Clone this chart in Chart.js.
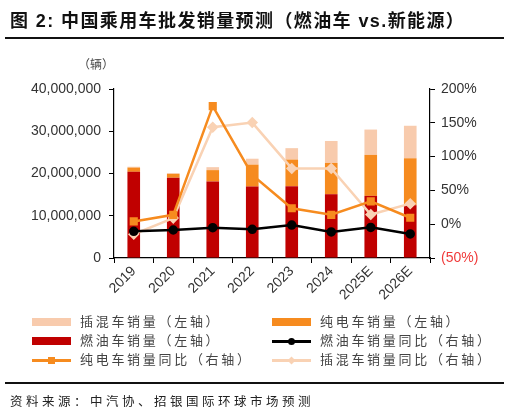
<!DOCTYPE html>
<html>
<head>
<meta charset="utf-8">
<script src="https://cdn.jsdelivr.net/npm/chart.js@4/dist/chart.umd.min.js"></script>
<style>
  body { margin: 0; background: #fff; }
  #wrap { position: relative; width: 512px; height: 416px; overflow: hidden;
          font-family: "Liberation Sans", "Noto Sans CJK SC", sans-serif; color: #333; }
  #chart { position: absolute; left: 0; top: 0; }
  .title { position: absolute; left: 10px; top: 6px; font-size: 18px; font-weight: bold;
           color: #111; letter-spacing: 1.4px; white-space: nowrap; }
  .rule { position: absolute; left: 5px; width: 499px; height: 2px; background: #111; }
  .unit { position: absolute; left: 78px; top: 55px; font-size: 12px; color: #444;
          font-family: "Noto Sans CJK SC"; }
  .lg { position: absolute; font-family: "Noto Sans CJK SC"; font-size: 13px; color: #444;
        letter-spacing: 2.7px; white-space: nowrap; line-height: 16px; }
  .sw { position: absolute; }
  .src { position: absolute; left: 10px; top: 391px; font-family: "Noto Sans CJK SC";
         font-size: 12.5px; color: #222; letter-spacing: 3.5px; white-space: nowrap; }
</style>
</head>
<body>
<div id="wrap">
  <canvas id="chart" width="512" height="416"></canvas>
  <div class="title">图 2: 中国乘用车批发销量预测（燃油车 vs.新能源）</div>
  <div class="rule" style="top:37px"></div>
  <div class="unit">（辆）</div>
  <div id="legend"></div>
  <div class="rule" style="top:382px"></div>
  <div class="src">资料来源：中汽协、招银国际环球市场预测</div>
</div>
<script>
// categories
var years = ['2019', '2020', '2021', '2022', '2023', '2024', '2025E', '2026E'];

// sales (vehicles), left axis
var iceSales = [20400000, 19000000, 18100000, 16900000, 17000000, 15100000, 14700000, 12500000];
var bevSales = [1000000, 900000, 2700000, 5200000, 6300000, 7400000, 9700000, 11100000];
var phevSales = [200000, 200000, 700000, 1400000, 2700000, 5200000, 6000000, 7700000];

// year-on-year growth (%), right axis
var iceYoy = [-10.5, -8.6, -5.2, -7.6, -1.3, -11.5, -4.7, -14.4];
var bevYoy = [4.1, 13.9, 174.7, 72.8, 23.6, 13.9, 33.8, 9.5];
var phevYoy = [-14.9, 9.0, 143.5, 150.3, 82.5, 82.5, 14.3, 30.4];

var RED = '#C00000', ORANGE = '#F68B1F', PEACH = '#F8CBAD', PEACH_LINE = '#F9D2B4';

var tickFont = { family: 'Liberation Sans', size: 14 };

new Chart(document.getElementById('chart'), {
    type: 'bar',
    data: {
        labels: years,
        datasets: [
            { label: '燃油车销量同比（右轴）', type: 'line', data: iceYoy, yAxisID: 'y1',
              borderColor: '#000', backgroundColor: '#000', borderWidth: 2.5,
              pointStyle: 'circle', pointRadius: 3.5, order: 0 },
            { label: '纯电车销量同比（右轴）', type: 'line', data: bevYoy, yAxisID: 'y1',
              borderColor: ORANGE, backgroundColor: ORANGE, borderWidth: 2.5,
              pointStyle: 'rect', pointRadius: 4, order: 1 },
            { label: '插混车销量同比（右轴）', type: 'line', data: phevYoy, yAxisID: 'y1',
              borderColor: PEACH_LINE, backgroundColor: PEACH_LINE, borderWidth: 2.5,
              pointStyle: 'rectRot', pointRadius: 4, order: 2 },
            { label: '燃油车销量（左轴）', data: iceSales, backgroundColor: RED,
              yAxisID: 'y', stack: 's', order: 10 },
            { label: '纯电车销量（左轴）', data: bevSales, backgroundColor: ORANGE,
              yAxisID: 'y', stack: 's', order: 10 },
            { label: '插混车销量（左轴）', data: phevSales, backgroundColor: PEACH,
              yAxisID: 'y', stack: 's', order: 10 }
        ]
    },
    options: {
        responsive: false,
        animation: false,
        layout: { padding: { top: 89, left: 0, right: 0, bottom: 0 } },
        datasets: { bar: { barPercentage: 0.32, categoryPercentage: 1 } },
        plugins: { legend: { display: false }, tooltip: { enabled: false } },
        scales: {
            x: {
                stacked: true,
                grid: { display: true, drawOnChartArea: false, drawTicks: true, tickLength: 5,
                        color: '#000', offset: true },
                border: { color: '#000', width: 1.2 },
                ticks: { color: '#333', font: tickFont, minRotation: 45, maxRotation: 45, padding: 0 },
                afterFit: function(s) { s.height = 158; }
            },
            y: {
                position: 'left', stacked: true, min: 0, max: 40000000,
                grid: { drawOnChartArea: false, tickLength: 5, color: '#000' },
                border: { color: '#000', width: 1.2 },
                ticks: { stepSize: 10000000, color: '#333', font: tickFont, padding: 8,
                         callback: function(v) { return v.toLocaleString('en-US'); } },
                afterFit: function(s) { s.width = 114; }
            },
            y1: {
                position: 'right', min: -50, max: 200,
                grid: { drawOnChartArea: false, tickLength: 5, color: '#000' },
                border: { color: '#000', width: 1.2 },
                ticks: { stepSize: 50, font: tickFont, padding: 6,
                         color: function(c) { return c.tick && c.tick.value < 0 ? '#F03A3A' : '#333'; },
                         callback: function(v) { return v < 0 ? '(' + Math.abs(v) + '%)' : v + '%'; } },
                afterFit: function(s) { s.width = 82; }
            }
        }
    }
});

// legend (two columns, same order as the reference)
var legendItems = [
    { text: '插混车销量（左轴）', kind: 'box', color: PEACH, x: 32, y: 322 },
    { text: '纯电车销量（左轴）', kind: 'box', color: ORANGE, x: 272, y: 322 },
    { text: '燃油车销量（左轴）', kind: 'box', color: RED, x: 32, y: 341 },
    { text: '燃油车销量同比（右轴）', kind: 'line', color: '#000', marker: 'circle', x: 272, y: 341 },
    { text: '纯电车销量同比（右轴）', kind: 'line', color: ORANGE, marker: 'square', x: 32, y: 360 },
    { text: '插混车销量同比（右轴）', kind: 'line', color: PEACH_LINE, marker: 'diamond', x: 272, y: 360 }
];
var lg = document.getElementById('legend');
legendItems.forEach(function(it) {
    var html = '';
    if (it.kind === 'box') {
        html += '<div class="sw" style="left:' + it.x + 'px;top:' + (it.y - 4) + 'px;width:39px;height:8px;background:' + it.color + '"></div>';
    } else {
        html += '<div class="sw" style="left:' + it.x + 'px;top:' + (it.y - 1) + 'px;width:39px;height:2.5px;background:' + it.color + '"></div>';
        var m = 'left:' + (it.x + 16) + 'px;top:' + (it.y - 3.5) + 'px;width:7px;height:7px;background:' + it.color + ';';
        if (it.marker === 'circle') m += 'border-radius:50%;';
        if (it.marker === 'diamond') m += 'transform:rotate(45deg) scale(0.8);';
        html += '<div class="sw" style="' + m + '"></div>';
    }
    html += '<div class="lg" style="left:' + (it.x + 48) + 'px;top:' + (it.y - 9) + 'px">' + it.text + '</div>';
    lg.insertAdjacentHTML('beforeend', html);
});
</script>
</body>
</html>
